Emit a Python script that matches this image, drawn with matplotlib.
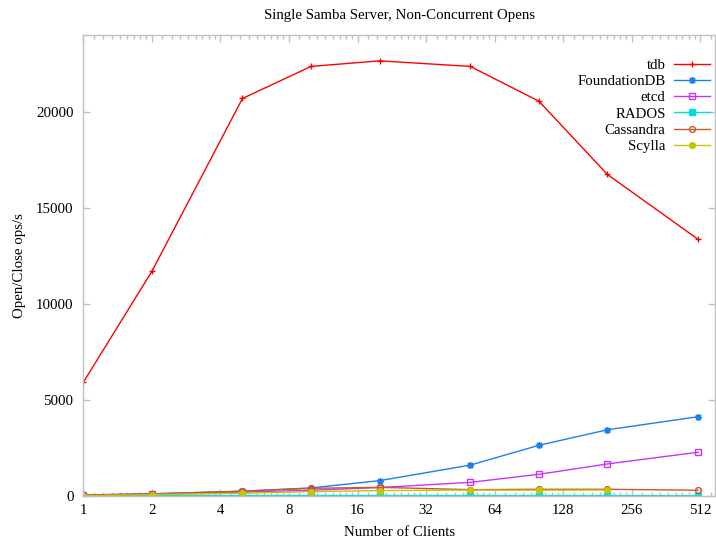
import numpy as np
import matplotlib
matplotlib.use("Agg")
import matplotlib.pyplot as plt
from matplotlib.ticker import FixedLocator, NullFormatter

clients = [1, 2, 5, 10, 20, 50, 100, 200, 500]

tdb = [5920, 11700, 20710, 22380, 22670, 22380, 20570, 16750, 13370]
foundationdb = [50, 110, 250, 420, 800, 1610, 2640, 3450, 4130]
etcd = [60, 100, 200, 300, 440, 710, 1130, 1670, 2280]
rados = [20, 20, 25, 25, 25, 25, 20, 20, 15]
cassandra = [40, 110, 250, 400, 450, 330, 350, 350, 300]
scylla = [20, 70, 150, 230, 280, 310, 300, 310]

series = [
    ("tdb", clients, tdb, "#ff0000", "+", True),
    ("FoundationDB", clients, foundationdb, "#1a80f0", (8, 2, 0), True),
    ("etcd", clients, etcd, "#c436ff", "s", False),
    ("RADOS", clients, rados, "#00dede", "s", True),
    ("Cassandra", clients, cassandra, "#c8582a", "o", False),
    ("Scylla", clients[:8], scylla, "#c4c400", "o", True),
]

plt.rcParams["font.family"] = ["Liberation Serif", "DejaVu Serif"]

fig = plt.figure(figsize=(7.16, 5.4), dpi=100)
ax = fig.add_axes([0.1163, 0.0815, 0.9990 - 0.1163, 0.9346 - 0.0815])

for name, xs, ys, color, marker, filled in series:
    ms = 5 if marker in ("+", (8, 2, 0)) else 4.2
    ax.plot(xs, ys, color=color, lw=1.0, marker=marker, markersize=ms,
            markeredgewidth=1.0,
            markerfacecolor=color if filled else "none",
            markeredgecolor=color, label=name)

ax.set_xscale("log", base=2)
ax.set_xlim(1, 595)
ax.set_ylim(0, 24000)

major = [2 ** k for k in range(10)]
minor = [2 ** k * (1 + j / 9) for k in range(10) for j in range(1, 9)]
ax.xaxis.set_major_locator(FixedLocator(major))
ax.xaxis.set_minor_locator(FixedLocator(minor))
ax.set_xticklabels([str(v) for v in major])
ax.xaxis.set_minor_formatter(NullFormatter())
ax.set_yticks([0, 5000, 10000, 15000, 20000])

frame = "#c0c0c0"
for s in ax.spines.values():
    s.set_color(frame)
    s.set_linewidth(1.0)
ax.tick_params(which="both", direction="in", top=True, right=True,
               color=frame, labelsize=10.7, labelcolor="black")
ax.tick_params(which="major", length=5, width=1)
ax.tick_params(which="minor", length=3, width=1)
ax.tick_params(axis="x", pad=6)
ax.tick_params(axis="y", pad=7)

ax.set_title("Single Samba Server, Non-Concurrent Opens", fontsize=10.7, pad=12)
ax.set_xlabel("Number of Clients", fontsize=10.7, labelpad=6)
ax.set_ylabel("Open/Close ops/s", fontsize=10.7, labelpad=7)

ax.legend(loc="upper right", bbox_to_anchor=(1.006, 0.969), frameon=False,
          markerfirst=False, fontsize=10.7, handlelength=2.45,
          labelspacing=0.19, handletextpad=0.55, borderaxespad=0.2)

fig.savefig("out.png", dpi=100)
